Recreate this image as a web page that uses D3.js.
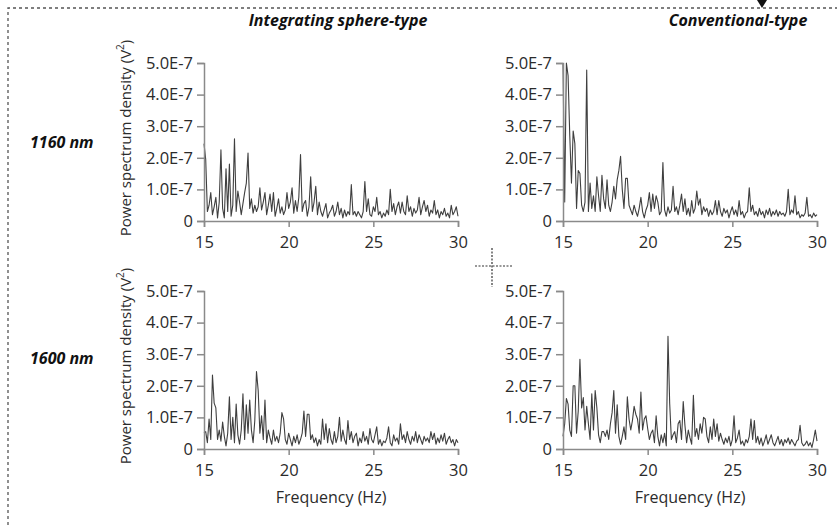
<!DOCTYPE html>
<html>
<head>
<meta charset="utf-8">
<script src="https://cdn.jsdelivr.net/npm/d3@7"></script>
<style>
  body { margin: 0; background: #fff; }
  svg { display: block; font-family: "Open Sans", sans-serif; }
</style>
</head>
<body>
<div id="canvas"></div>
<script>
"use strict"

let drawingWidth = 837;
let drawingHeight = 525;

/* Frequency grid: 15 to 30 Hz, one sample every 0.1 Hz */
let freqStart = 15;
let freqStep = 0.1;

let columnTitles = ["Integrating sphere-type", "Conventional-type"];
let rowTitles = ["1160 nm", "1600 nm"];
let xTicks = [15, 20, 25, 30];
let yTicks = [0, 1e-7, 2e-7, 3e-7, 4e-7, 5e-7];

/* Power spectrum density, in units of 1E-7 V^2 */
let sphere1160 = [
  2.45, 1.95, 0.3, 0.5, 0.9, 0.2, 0.45, 0.75, 0.1, 0.6,
  2.25, 0.4, 0.1, 1.65, 0.3, 1.8, 0.15, 0.5, 2.6, 0.3,
  0.95, 0.6, 0.2, 0.55, 0.9, 1.2, 2.15, 0.4, 0.7, 0.25,
  0.5, 0.3, 0.45, 1.05, 0.35, 0.6, 0.9, 0.2, 0.5, 0.85,
  0.3, 0.9, 0.15, 0.4, 0.7, 0.25, 0.45, 0.2, 0.35, 0.9,
  0.4, 0.6, 1.05, 0.25, 0.65, 0.3, 0.75, 2.1, 0.3, 0.55,
  0.65, 0.15, 0.45, 1.4, 0.3, 0.6, 1.1, 0.2, 0.6, 0.3,
  0.15, 0.35, 0.55, 0.1, 0.25, 0.35, 0.5, 0.15, 0.3, 0.6,
  0.2, 0.4, 0.1, 0.35, 0.15, 0.3, 0.2, 1.15, 0.2, 0.3,
  0.15, 0.3, 0.2, 0.1, 0.3, 1.25, 0.3, 0.7, 0.2, 0.15,
  0.45, 0.3, 0.75, 0.2, 0.3, 0.1, 0.25, 0.15, 0.35, 0.2,
  1.0, 0.3, 0.55, 0.2, 0.45, 0.6, 0.25, 0.6, 0.3, 0.2,
  0.8, 0.3, 0.45, 0.15, 0.4, 0.25, 0.35, 0.75, 0.2, 0.45,
  0.65, 0.3, 0.5, 0.15, 0.35, 0.25, 0.65, 0.2, 0.35, 0.1,
  0.3, 0.2, 0.4, 0.15, 0.25, 0.1, 0.5, 0.2, 0.3, 0.45,
  0.15
];

let conventional1160 = [
  5.0, 0.6, 5.0, 4.6, 2.7, 1.2, 2.85, 2.45, 0.4, 1.6,
  1.5, 0.5, 0.3, 0.6, 4.78, 0.3, 1.2, 0.4, 0.8, 0.3,
  1.4, 0.8, 0.3, 1.45, 0.7, 0.4, 1.3, 0.5, 0.3, 0.6,
  1.1, 0.7, 1.3, 1.6, 2.05, 1.0, 0.4, 1.35, 1.35, 0.5,
  0.35, 0.2, 0.5, 0.3, 0.15, 0.4, 0.75, 0.3, 0.1, 0.35,
  0.5, 0.9, 0.3, 0.85, 0.4, 0.8, 0.6, 0.2, 0.3, 1.85,
  0.35, 0.15, 0.45, 0.25, 0.35, 1.1, 0.3, 0.45, 0.2, 0.5,
  0.85, 0.3, 0.7, 0.2, 0.4, 0.15, 0.65, 0.25, 0.4, 0.95,
  0.5, 0.7, 0.2, 0.45, 0.3, 0.4, 0.15, 0.35, 0.2, 0.3,
  0.65, 0.2, 0.65, 0.3, 0.15, 0.4, 0.25, 0.35, 0.1, 0.3,
  0.45, 0.2, 0.35, 0.15, 0.65, 0.2, 0.3, 0.1, 0.25, 0.3,
  1.05, 0.3, 0.5, 0.2, 0.3, 0.15, 0.4, 0.2, 0.3, 0.1,
  0.35, 0.2, 0.4, 0.15, 0.3, 0.2, 0.35, 0.15, 0.3, 0.2,
  0.25, 0.15, 0.3, 1.0, 0.2, 0.35, 0.25, 0.8, 0.2, 0.3,
  0.1, 0.2, 0.15, 0.25, 0.75, 0.15, 0.2, 0.1, 0.25, 0.15,
  0.2
];

let sphere1600 = [
  0.5, 0.55, 0.2, 0.95, 0.3, 2.34, 1.45, 1.3, 0.3, 0.6,
  0.25, 0.85, 0.4, 0.1, 0.5, 1.65, 0.3, 1.0, 0.2, 1.42,
  0.45, 0.15, 0.6, 1.75, 0.3, 1.4, 0.5, 1.55, 0.6, 0.2,
  0.9, 2.45, 1.85, 0.5, 1.05, 0.3, 1.55, 0.2, 0.6, 0.35,
  0.15, 0.6, 0.25, 0.4, 0.2, 0.5, 1.15, 0.95, 0.3, 0.15,
  0.5, 0.3, 0.1, 0.4, 0.2, 0.45, 0.15, 0.3, 0.5, 1.2,
  0.4, 1.1, 1.1, 0.3, 0.45, 0.2, 0.35, 0.1, 0.3, 0.15,
  0.95, 0.3, 0.8, 0.2, 0.65, 0.3, 0.15, 0.55, 0.2, 0.4,
  1.0, 0.25, 0.6, 0.3, 0.15, 0.9, 0.3, 0.55, 0.2, 0.4,
  0.5, 0.1, 0.35, 0.2, 0.55, 0.25, 0.4, 0.15, 0.65, 0.3,
  0.2, 0.45, 0.7, 0.15, 0.3, 0.1, 0.25, 0.2, 0.35, 0.7,
  0.2, 0.1, 0.45, 0.25, 0.35, 0.15, 0.8, 0.3, 0.45, 0.2,
  0.55, 0.3, 0.15, 0.4, 0.25, 0.55, 0.2, 0.45, 0.3, 0.15,
  0.4, 0.25, 0.35, 0.2, 0.55, 0.3, 0.5, 0.15, 0.35, 0.2,
  0.45, 0.25, 0.5, 0.15, 0.3, 0.4, 0.2, 0.3, 0.1, 0.3,
  0.2
];

let conventional1600 = [
  0.4, 0.8, 1.6, 1.42, 0.6, 0.4, 2.0, 2.0, 0.5, 1.2,
  2.84, 1.3, 1.63, 0.6, 1.35, 0.8, 0.3, 1.75, 0.6, 1.85,
  1.3, 0.45, 0.2, 0.55, 0.55, 0.4, 0.6, 0.3, 0.8, 1.15,
  1.85, 0.5, 1.4, 0.4, 0.15, 0.4, 0.7, 0.3, 1.65, 0.95,
  0.6, 0.9, 1.35, 1.1, 0.95, 0.5, 1.8, 0.6, 0.95, 1.05,
  0.65, 0.3, 0.5, 0.6, 0.2, 1.05, 0.4, 0.1, 0.45, 0.2,
  0.5, 0.1, 3.57, 1.45, 0.3, 0.45, 0.55, 0.2, 0.8, 0.9,
  0.3, 1.5, 0.75, 0.2, 0.6, 0.35, 0.15, 1.7, 0.4, 0.65,
  0.3, 0.8, 0.5, 1.0, 0.95, 0.4, 0.2, 0.7, 0.3, 0.95,
  0.4, 0.8, 0.25, 0.5, 0.3, 0.15, 0.35, 0.2, 0.4, 0.1,
  0.3, 1.05, 0.2, 0.35, 0.6, 0.15, 0.25, 0.1, 0.3, 0.2,
  0.4, 0.95, 0.3, 0.9, 0.2, 0.4, 0.15, 0.35, 0.1, 0.25,
  0.45, 0.15, 0.3, 0.45, 0.2, 0.1, 0.25, 0.4, 0.15, 0.3,
  0.1, 0.3, 0.2, 0.35, 0.15, 0.3, 0.2, 0.1, 0.25, 0.3,
  0.75, 0.2, 0.1, 0.15, 0.25, 0.1, 0.2, 0.05, 0.3, 0.6,
  0.25
];

let panelSeries = [
  [sphere1160, conventional1160],
  [sphere1600, conventional1600]
];

/* Panel geometry */
let panelLeft = [204, 563];
let panelWidth = 254;
let panelTop = [63, 291];
let panelHeight = 158;

let axisColor = "#8a8a8a";
let lineColor = "#3f3f3f";
let textColor = "#2b2b2b";

let drawing = d3.select("#canvas")
    .append("svg")
    .attr("width", drawingWidth)
    .attr("height", drawingHeight);

drawing.append("rect")
    .attr("width", drawingWidth)
    .attr("height", drawingHeight)
    .attr("fill", "white");

/* Dashed frame around the figure */
drawing.append("path")
    .attr("d", "M8,525 V8 H837")
    .attr("fill", "none")
    .attr("stroke", "#555")
    .attr("stroke-width", 1.3)
    .attr("stroke-dasharray", "3,3");

/* Little arrow head on the top edge */
drawing.append("path")
    .attr("d", "M757,0 L767,0 L762,8 Z")
    .attr("fill", "#111");

/* Dotted cross between the panels */
drawing.append("line")
    .attr("x1", 475).attr("x2", 512)
    .attr("y1", 266).attr("y2", 266)
    .attr("stroke", "#333").attr("stroke-width", 1.2)
    .attr("stroke-dasharray", "2,1.5");
drawing.append("line")
    .attr("x1", 492).attr("x2", 492)
    .attr("y1", 248).attr("y2", 287)
    .attr("stroke", "#333").attr("stroke-width", 1.2)
    .attr("stroke-dasharray", "2,1.5");

/* Column titles */
let titleX = [338, 738];
columnTitles.forEach(function (t, c) {
    drawing.append("text")
        .attr("x", titleX[c])
        .attr("y", 26)
        .attr("text-anchor", "middle")
        .attr("font-size", 16)
        .attr("font-weight", "bold")
        .attr("font-style", "italic")
        .attr("fill", "#111")
        .text(t);
});

/* Row titles */
let rowY = [148, 364];
rowTitles.forEach(function (t, r) {
    drawing.append("text")
        .attr("x", 30)
        .attr("y", rowY[r])
        .attr("font-size", 16)
        .attr("font-weight", "bold")
        .attr("font-style", "italic")
        .attr("fill", "#111")
        .text(t);
});

function formatPsd(v) {
    if (v === 0) return "0";
    return (v * 1e7).toFixed(1) + "E-7";
}

function drawPanel(row, col) {
    let values = panelSeries[row][col];
    let x0 = panelLeft[col];
    let y0 = panelTop[row];

    let x = d3.scaleLinear().domain([15, 30]).range([x0, x0 + panelWidth]);
    let y = d3.scaleLinear().domain([0, 5e-7]).range([y0 + panelHeight, y0]);

    let line = d3.line()
        .x(function (d, i) { return x(freqStart + i * freqStep); })
        .y(function (d) { return y(d * 1e-7); });

    drawing.append("path")
        .datum(values)
        .attr("d", line)
        .attr("fill", "none")
        .attr("stroke", lineColor)
        .attr("stroke-width", 1.1)
        .attr("stroke-linejoin", "round");

    let yAxis = drawing.append("g")
        .attr("transform", "translate(" + x0 + ",0)")
        .call(d3.axisLeft(y).tickValues(yTicks).tickFormat(formatPsd).tickSizeOuter(0).tickSize(7).tickPadding(4));

    let xAxis = drawing.append("g")
        .attr("transform", "translate(0," + (y0 + panelHeight) + ")")
        .call(d3.axisBottom(x).tickValues(xTicks).tickFormat(d3.format("d")).tickSizeOuter(0).tickSize(6).tickPadding(9));

    [yAxis, xAxis].forEach(function (g) {
        g.select(".domain").attr("stroke", axisColor).attr("stroke-width", 1.5);
        g.selectAll(".tick line").attr("stroke", axisColor).attr("stroke-width", 1.5);
        g.selectAll(".tick text")
            .attr("fill", textColor)
            .attr("font-size", 16.5)
            .attr("font-family", "Open Sans, sans-serif");
    });

    if (col === 0) {
        let cy = y0 + panelHeight / 2 - 4;
        drawing.append("text")
            .attr("transform", "translate(126," + cy + ") rotate(-90)")
            .attr("text-anchor", "middle")
            .attr("dy", "0.35em")
            .attr("font-size", 15)
            .attr("fill", textColor)
            .html("Power spectrum density (V<tspan baseline-shift=\"super\" font-size=\"10\">2</tspan>)");
    }

    if (row === 1) {
        drawing.append("text")
            .attr("x", x0 + panelWidth / 2)
            .attr("y", y0 + panelHeight + 54)
            .attr("text-anchor", "middle")
            .attr("font-size", 16)
            .attr("fill", textColor)
            .text("Frequency (Hz)");
    }
}

for (let r = 0; r < 2; r++) {
    for (let c = 0; c < 2; c++) {
        drawPanel(r, c);
    }
}
</script>
</body>
</html>
